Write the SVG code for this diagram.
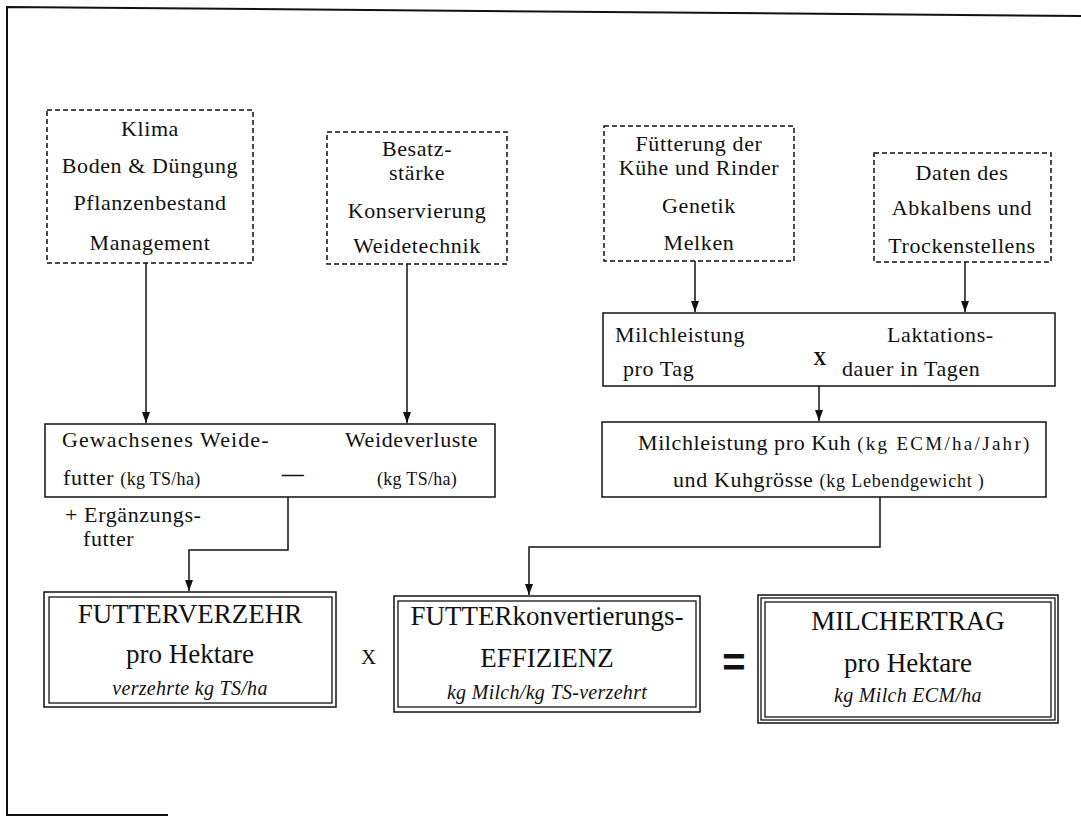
<svg xmlns="http://www.w3.org/2000/svg" width="1081" height="816" viewBox="0 0 1081 816">
<style>
.t{font-family:"Liberation Serif","Times New Roman",serif;font-size:22px;fill:#111;letter-spacing:0.6px}
.c{text-anchor:middle}
.s{font-size:18px;letter-spacing:0.3px}
.h{font-size:27px;letter-spacing:0}
.i{font-style:italic;font-size:20px;letter-spacing:0.3px}
.dash{fill:none;stroke:#111;stroke-width:1.5;stroke-dasharray:5 3}
.box{fill:#fff;stroke:#111;stroke-width:1.5}
.dbl{fill:none;stroke:#111;stroke-width:1.3}
.conn{fill:none;stroke:#111;stroke-width:1.5}
</style>
<defs>
<marker id="ah" viewBox="0 0 10 10" refX="10" refY="5" markerWidth="11" markerHeight="8" markerUnits="userSpaceOnUse" orient="auto" preserveAspectRatio="none">
<path d="M0,0 L10,5 L0,10 z" fill="#111"/>
</marker>
</defs>
<rect width="1081" height="816" fill="#fff"/>
<polyline points="1081,16 7,7 7,815 168,815" fill="none" stroke="#111" stroke-width="2"/>

<g id="connectors">
<path class="conn" d="M146,263 V423" marker-end="url(#ah)"/>
<path class="conn" d="M407,264 V423" marker-end="url(#ah)"/>
<path class="conn" d="M695,261 V312" marker-end="url(#ah)"/>
<path class="conn" d="M965,262 V312" marker-end="url(#ah)"/>
<path class="conn" d="M819,386 V421" marker-end="url(#ah)"/>
<path class="conn" d="M288,497 V550 H189 V591" marker-end="url(#ah)"/>
<path class="conn" d="M880,497 V547 H529 V595" marker-end="url(#ah)"/>
</g>

<g id="n-klima">
<rect class="dash" x="47" y="110" width="206" height="153"/>
<text class="t c" x="150" y="136">Klima</text>
<text class="t c" x="150" y="173">Boden &amp; Düngung</text>
<text class="t c" x="150" y="210">Pflanzenbestand</text>
<text class="t c" x="150" y="250">Management</text>
</g>

<g id="n-besatz">
<rect class="dash" x="327" y="132" width="180" height="132"/>
<text class="t c" x="417" y="156">Besatz-</text>
<text class="t c" x="417" y="180">stärke</text>
<text class="t c" x="417" y="218">Konservierung</text>
<text class="t c" x="417" y="253">Weidetechnik</text>
</g>

<g id="n-fuetterung">
<rect class="dash" x="604" y="126" width="190" height="135"/>
<text class="t c" x="699" y="151">Fütterung der</text>
<text class="t c" x="699" y="175">Kühe und Rinder</text>
<text class="t c" x="699" y="213">Genetik</text>
<text class="t c" x="699" y="250">Melken</text>
</g>

<g id="n-daten">
<rect class="dash" x="874" y="153" width="177" height="109"/>
<text class="t c" x="962" y="180">Daten des</text>
<text class="t c" x="962" y="215">Abkalbens und</text>
<text class="t c" x="962" y="253">Trockenstellens</text>
</g>

<g id="n-weide">
<rect class="box" x="45" y="424" width="450" height="73"/>
<text class="t" x="62" y="447" style="letter-spacing:1.1px">Gewachsenes Weide-</text>
<text class="t" x="63" y="485">futter <tspan class="s">(kg TS/ha)</tspan></text>
<text class="t c" x="293" y="481" style="font-weight:bold">—</text>
<text class="t" x="345" y="447">Weideverluste</text>
<text class="t s" x="377" y="485">(kg TS/ha)</text>
</g>

<g id="n-ergaenzung">
<text class="t" x="65" y="522">+ Ergänzungs-</text>
<text class="t" x="83" y="546">futter</text>
</g>

<g id="n-milchtag">
<rect class="box" x="603" y="313" width="452" height="73"/>
<text class="t" x="615" y="342">Milchleistung</text>
<text class="t" x="623" y="376">pro Tag</text>
<text class="t c" x="820" y="365" style="font-size:18px;font-weight:bold">X</text>
<text class="t" x="887" y="342">Laktations-</text>
<text class="t" x="842" y="376">dauer in Tagen</text>
</g>

<g id="n-milchkuh">
<rect class="box" x="602" y="422" width="444" height="75"/>
<text class="t" x="638" y="450">Milchleistung pro Kuh <tspan class="s" style="font-size:19px;letter-spacing:2.3px">(kg ECM/ha/Jahr)</tspan></text>
<text class="t" x="673" y="487">und Kuhgrösse <tspan class="s" style="letter-spacing:0.8px">(kg Lebendgewicht )</tspan></text>
</g>

<g id="n-futterverzehr">
<rect class="box" x="44" y="592" width="292" height="115" stroke-width="2"/>
<rect class="dbl" x="49" y="597" width="283" height="106"/>
<text class="t c h" x="190" y="623">FUTTERVERZEHR</text>
<text class="t c h" x="190" y="663">pro Hektare</text>
<text class="t c i" x="190" y="695">verzehrte kg TS/ha</text>
</g>

<text class="t c" x="369" y="664" style="font-size:21px">X</text>

<g id="n-effizienz">
<rect class="box" x="394" y="596" width="306" height="116" stroke-width="2"/>
<rect class="dbl" x="398" y="601" width="298" height="106"/>
<text class="t c h" x="547" y="625">FUTTERkonvertierungs-</text>
<text class="t c h" x="547" y="667">EFFIZIENZ</text>
<text class="t c i" x="547" y="699">kg Milch/kg TS-verzehrt</text>
</g>

<text x="734" y="676" text-anchor="middle" style="font-family:'Liberation Sans',Arial,sans-serif;font-size:40px;font-weight:bold;fill:#111">=</text>

<g id="n-milchertrag">
<rect class="box" x="758" y="595" width="300" height="128" stroke-width="2"/>
<rect class="dbl" x="761" y="598" width="294" height="122"/>
<rect class="dbl" x="765" y="602" width="286" height="115"/>
<text class="t c h" x="908" y="630">MILCHERTRAG</text>
<text class="t c h" x="908" y="672">pro Hektare</text>
<text class="t c i" x="908" y="702">kg Milch ECM/ha</text>
</g>
</svg>
